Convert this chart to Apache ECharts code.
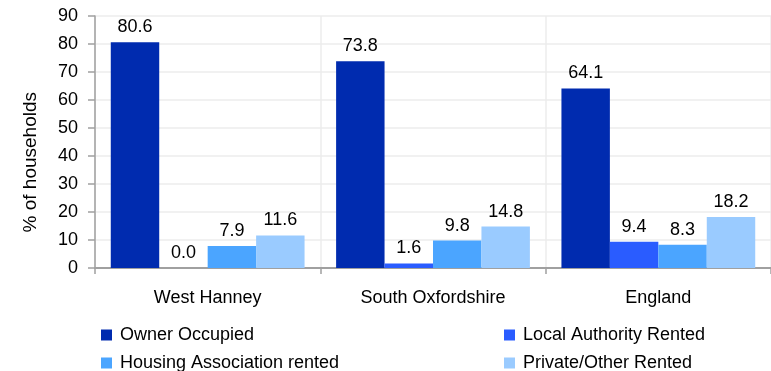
<!DOCTYPE html>
<html><head><meta charset="utf-8">
<script src="https://cdn.jsdelivr.net/npm/echarts@6/dist/echarts.min.js"></script>
<style>html,body{margin:0;padding:0;background:#fff}#c{width:771px;height:371px}</style>
</head><body><div id="c"></div>
<script>
var categories = ['West Hanney', 'South Oxfordshire', 'England'];
var ownerOccupied = [80.6, 73.8, 64.1];
var localAuthority = [0.0, 1.6, 9.4];
var housingAssoc = [7.9, 9.8, 8.3];
var privateOther = [11.6, 14.8, 18.2];
var seriesNames = ['Owner Occupied', 'Local Authority Rented', 'Housing Association rented', 'Private/Other Rented'];
var colors = ['#002BAF', '#2A5CFF', '#4BA5FF', '#9ACBFF'];
var yTicks = {min: 0, max: 90, interval: 10};

var font = 'Liberation Sans, Arial, sans-serif';
var fs = 18;
function mk(i, data) {
  return {
    name: seriesNames[i], type: 'bar', data: data, barGap: '0%', barCategoryGap: '14%',
    itemStyle: {color: colors[i]},
    label: {show: true, position: 'top', distance: 6, color: '#000', fontSize: fs, fontFamily: font,
      formatter: function(p){ return p.value.toFixed(1); }}
  };
}
var legendText = {color: '#000', fontSize: fs, fontFamily: font, padding: [0, 0, 0, 3]};
var chart = echarts.init(document.getElementById('c'));
chart.setOption({
  animation: false,
  textStyle: {fontFamily: font},
  grid: {left: 95, right: -8, top: 16, bottom: 103, containLabel: false},
  xAxis: {
    type: 'category', data: categories,
    axisLine: {lineStyle: {color: '#a0a0a0', width: 2}},
    axisTick: {show: true, length: 6, lineStyle: {color: '#a0a0a0', width: 1.5}},
    axisLabel: {color: '#000', fontSize: fs, margin: 21, fontFamily: font},
    splitLine: {show: true, lineStyle: {color: '#ececec', width: 1.5}}
  },
  yAxis: {
    type: 'value', min: yTicks.min, max: yTicks.max, interval: yTicks.interval,
    axisLine: {show: true, lineStyle: {color: '#a0a0a0', width: 1.5}},
    axisTick: {show: true, length: 7, lineStyle: {color: '#a0a0a0', width: 1.5}},
    axisLabel: {color: '#000', fontSize: fs, margin: 17, fontFamily: font},
    splitLine: {show: true, lineStyle: {color: '#ececec', width: 1.5}}
  },
  legend: [
    {data: [seriesNames[0], seriesNames[2]], orient: 'vertical', left: 101, top: 326, height: 60, padding: 0,
     itemWidth: 11, itemHeight: 11, itemGap: 10, icon: 'rect', textStyle: legendText},
    {data: [seriesNames[1], seriesNames[3]], orient: 'vertical', left: 504, top: 326, height: 60, padding: 0,
     itemWidth: 11, itemHeight: 11, itemGap: 10, icon: 'rect', textStyle: legendText}
  ],
  graphic: [{type: 'text', left: 21, top: 92, rotation: Math.PI/2,
    style: {text: '% of households', fontSize: 19, fontFamily: font, fill: '#000'}}],
  series: [mk(0, ownerOccupied), mk(1, localAuthority), mk(2, housingAssoc), mk(3, privateOther)]
});
</script></body></html>
